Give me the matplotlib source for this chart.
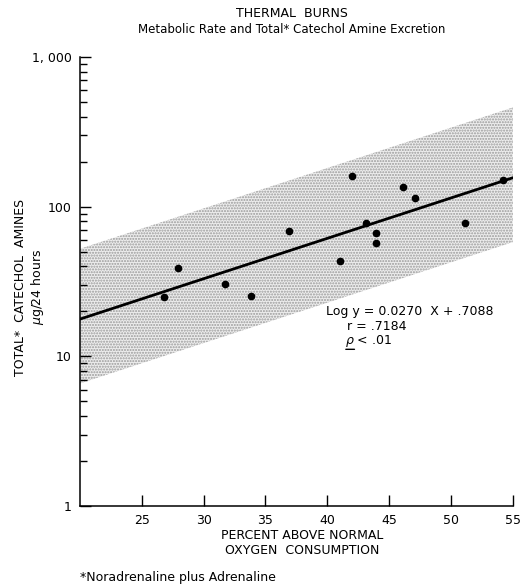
"""Thermal burns: metabolic rate vs total catechol amine excretion (log scale)."""

import numpy as np
import matplotlib.pyplot as plt
from matplotlib.ticker import FixedLocator, NullFormatter

plt.rcParams["font.family"] = ["DejaVu Sans"]

# observed patients
pct_above_normal = [26.8, 27.9, 31.7, 33.8, 36.9, 41.0, 42.0, 43.1, 43.9, 43.9,
                    46.1, 47.1, 51.1, 54.2]
total_catechol = [25.0, 39.0, 30.5, 25.5, 69.0, 43.5, 160.0, 78.0, 67.0, 57.0,
                  136.0, 114.0, 78.0, 150.0]

# regression printed on the chart: log y = SLOPE * x + INTERCEPT
SLOPE = 0.0270
INTERCEPT = 0.7088
BAND_UP = 0.47    # log10 units above the line
BAND_DOWN = 0.43  # log10 units below the line
X_RANGE = (20, 55)

y_ticks = [1, 10, 100, 1000]
y_ticklabels = ["1", "10", "100", "1, 000"]
x_ticks = [25, 30, 35, 40, 45, 50, 55]


def main():
    fig = plt.figure(figsize=(5.32, 5.86), dpi=100)
    ax = fig.add_axes([0.150, 0.1365, 0.814, 0.766])

    xs = np.array(X_RANGE, dtype=float)
    logy = SLOPE * xs + INTERCEPT
    ax.fill_between(xs, 10 ** (logy - BAND_DOWN), 10 ** (logy + BAND_UP),
                    facecolor="#ededed", edgecolor="#9a9a9a", hatch="......",
                    linewidth=0, zorder=1)
    ax.plot(xs, 10 ** logy, color="black", linewidth=2.0, zorder=3)
    ax.plot(pct_above_normal, total_catechol, "o", color="black",
            markersize=4.5, zorder=4)

    ax.set_yscale("log")
    ax.set_xlim(*X_RANGE)
    ax.set_ylim(1, 1000)

    ax.yaxis.set_major_locator(FixedLocator(y_ticks))
    ax.set_yticklabels(y_ticklabels)
    minors = [m * 10 ** e for e in range(3) for m in range(2, 10)]
    ax.yaxis.set_minor_locator(FixedLocator(minors))
    ax.yaxis.set_minor_formatter(NullFormatter())
    ax.set_xticks(x_ticks)
    ax.set_xticklabels([str(t) for t in x_ticks])

    ax.tick_params(axis="both", which="major", direction="in", length=8,
                   width=1, labelsize=9, pad=6)
    ax.tick_params(axis="y", which="minor", direction="in", length=5, width=1)
    ax.spines["top"].set_visible(False)
    ax.spines["right"].set_visible(False)
    ax.spines["left"].set_linewidth(1.1)
    ax.spines["bottom"].set_linewidth(1.1)

    ax.text(0.49, 1.098, "THERMAL  BURNS", transform=ax.transAxes,
            ha="center", va="center", fontsize=9)
    ax.text(0.49, 1.062, "Metabolic Rate and Total* Catechol Amine Excretion",
            transform=ax.transAxes, ha="center", va="center", fontsize=8.5)

    fig.text(0.038, 0.51, "TOTAL*  CATECHOL  AMINES", rotation=90,
             ha="center", va="center", fontsize=9)
    fig.text(0.070, 0.51, r"$\mu$g/24 hours", rotation=90,
             ha="center", va="center", fontsize=9)

    fig.text(0.568, 0.087, "PERCENT ABOVE NORMAL", ha="center", va="center",
             fontsize=9)
    fig.text(0.568, 0.060, "OXYGEN  CONSUMPTION", ha="center", va="center",
             fontsize=9)
    fig.text(0.150, 0.014, "*Noradrenaline plus Adrenaline", ha="left",
             va="center", fontsize=9)

    ax.text(39.9, 20.1, "Log y = 0.0270  X + .7088", ha="left", va="center",
            fontsize=9)
    ax.text(41.6, 15.9, "r = .7184", ha="left", va="center", fontsize=9)
    ax.text(41.4, 12.65, r"$\rho$ < .01", ha="left", va="center", fontsize=9)
    # underline under rho
    ax.annotate("", xy=(41.5, 11.15), xytext=(42.2, 11.15),
                arrowprops=dict(arrowstyle="-", color="black", lw=1,
                                shrinkA=0, shrinkB=0))

    fig.savefig("out.png", dpi=100, facecolor="white")
    plt.close(fig)


if __name__ == "__main__":
    main()
